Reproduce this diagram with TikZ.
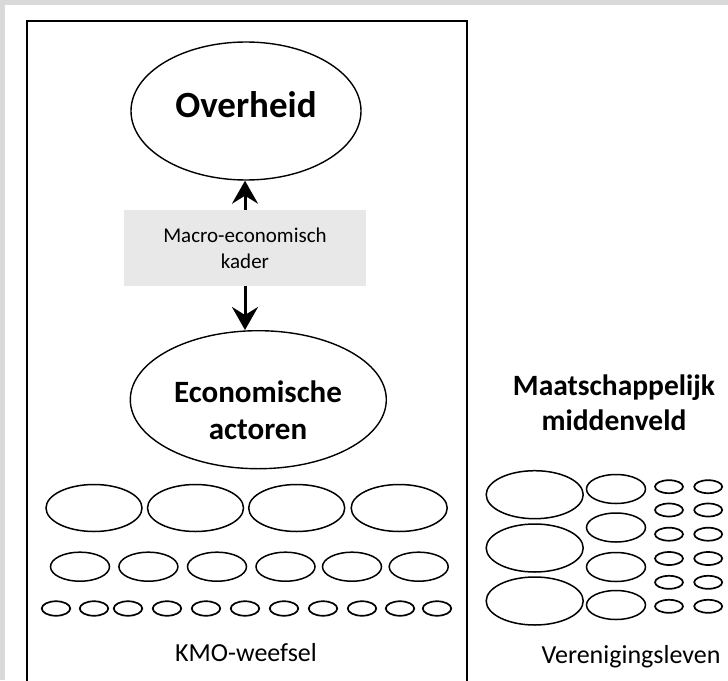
\documentclass[tikz,border=0pt]{standalone}
\usepackage{fontspec}
\setmainfont{Carlito}
\usetikzlibrary{shapes.geometric,arrows.meta}
\definecolor{bgline}{RGB}{217,217,217}
\definecolor{boxfill}{RGB}{232,232,232}
\begin{document}
\begin{tikzpicture}[x=1pt,y=-1pt,
  oval/.style={ellipse, draw=black, line width=1.5pt, inner sep=0pt},
  bigov/.style={oval, minimum width=96pt, minimum height=47pt},
  midov/.style={oval, minimum width=59pt, minimum height=29pt},
  smallov/.style={oval, line width=1.7pt, minimum width=28.5pt, minimum height=14.5pt},
  tinyov/.style={oval, line width=1.7pt, minimum width=28pt, minimum height=13pt},
  mainov/.style={ellipse, draw=black, line width=1.4pt, inner sep=0pt},
  biglbl/.style={font=\bfseries\fontsize{31}{36.6}\selectfont, align=center, inner sep=0pt},
  lbl/.style={font=\fontsize{26}{31}\selectfont, inner sep=0pt},
  conn/.style={line width=3pt, -{Stealth[length=23pt,width=26pt,inset=8pt]}}
]
\useasboundingbox (0,0) rectangle (728,680);
\fill[bgline] (0,0) rectangle (728,680);
\fill[white] (4.5,5) rectangle (728,680);
\begin{scope}
\clip (0,0) rectangle (728,680);
\draw[line width=2pt] (26.5,700) -- (26.5,21) -- (467,21) -- (467,700);
\end{scope}

% Overheid
\node[mainov, minimum width=230pt, minimum height=138pt] (ov) at (246,111) {};
\node[font=\bfseries\fontsize{37}{44}\selectfont, inner sep=0pt, anchor=base] (ovt) at (246,117) {Overheid};

% Macro-economisch kader
\node[fill=boxfill, minimum width=242pt, minimum height=76pt, inner sep=0pt,
      align=center, font=\fontsize{21}{26.3}\selectfont] (mk) at (245,248) {Macro-economisch\\kader};

% Economische actoren
\node[mainov, minimum width=256pt, minimum height=138pt] (eco) at (258.3,399.7) {};
\node[biglbl, anchor=base] (ecot) at (258,439.3) {Economische\\actoren};

\draw[conn] (mk.north) -- (mk.north |- ov.south);
\draw[conn] (mk.south) -- (mk.south |- eco.north);

% KMO-weefsel
\foreach \x [count=\i] in {94,195.5,296.7,399.2}
  \node[bigov] (kb\i) at (\x,508) {};
\foreach \x [count=\i] in {80,148.4,217,285.5,352,418.7}
  \node[midov] (km\i) at (\x,566.7) {};
\foreach \x [count=\i] in {56,94,128,167,206,245,284,323,362,400,437}
  \node[smallov] (ks\i) at (\x,608.5) {};
\node[lbl, anchor=base] (kmo) at (246,661) {KMO-weefsel};

% Maatschappelijk middenveld
\node[font=\bfseries\fontsize{29.5}{35}\selectfont, align=center, inner sep=0pt, anchor=base] (mm) at (614,430) {Maatschappelijk\\middenveld};
\foreach \y [count=\i] in {494.7,548,601}
  \node[bigov, minimum width=97pt, minimum height=48pt] (vb\i) at (534.7,\y) {};
\foreach \y [count=\i] in {489,527.5,567,605}
  \node[midov] (vm\i) at (616,\y) {};
\foreach \y [count=\i] in {486.7,510,534.2,558.5,582.3,606.3} {
  \node[tinyov] (vs\i) at (669,\y) {};
  \node[tinyov] (vt\i) at (708.2,\y) {};
}
\node[lbl, anchor=base] (ver) at (631,663.3) {Verenigingsleven};
\end{tikzpicture}
\end{document}
